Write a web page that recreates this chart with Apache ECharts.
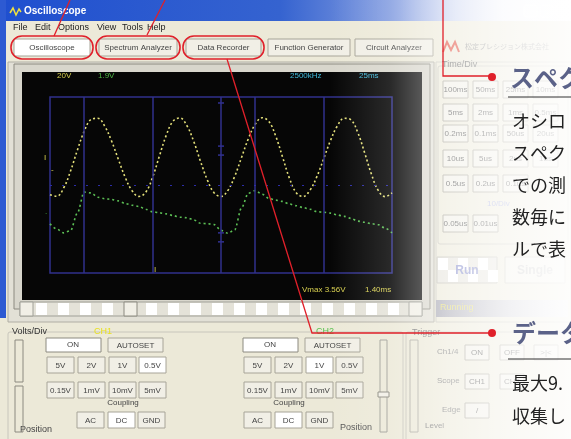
<!DOCTYPE html>
<html>
<head>
<meta charset="utf-8">
<title>Oscilloscope</title>
<script src="https://cdn.jsdelivr.net/npm/echarts@6.0.0/dist/echarts.min.js"></script>
<style>
html, body { margin: 0; padding: 0; background: #fff; }
#scope { width: 571px; height: 439px; }
</style>
</head>
<body>
<div id="scope"></div>
<script>
// time axis in screen divisions, 0..10
var sampleTimes = [0, 0.2, 0.4, 0.6, 0.8, 1.0, 1.2, 1.4, 1.6, 1.8, 2.0, 2.2, 2.4, 2.6, 2.8, 3.0, 3.2, 3.4, 3.6, 3.8,
    4.0, 4.2, 4.4, 4.6, 4.8, 5.0, 5.2, 5.4, 5.6, 5.8, 6.0, 6.2, 6.4, 6.6, 6.8, 7.0, 7.2, 7.4, 7.6, 7.8,
    8.0, 8.2, 8.4, 8.6, 8.8, 9.0, 9.2, 9.4, 9.6, 9.8, 10.0];
// CH1 (yellow) and CH2 (green), in divisions
var ch1Volts = [-0.55, -0.64, -0.17, 0.79, 1.98, 3.05, 3.72, 3.79, 3.34, 2.50, 1.45, 0.43, -0.33, -0.65, -0.41, 0.44, 1.65, 2.83, 3.63, 3.81,
    3.38, 2.49, 1.35, 0.29, -0.45, -0.65, -0.31, 0.49, 1.56, 2.63, 3.45, 3.82, 3.61, 2.78, 1.59, 0.39, -0.44, -0.65, -0.30, 0.46,
    1.48, 2.52, 3.35, 3.79, 3.70, 2.98, 1.83, 0.61, -0.32, -0.66, -0.45];
var ch2Volts = [-2.21, -2.50, -2.72, -2.60, -1.60, -0.40, -0.45, -0.70, -0.78, -0.82, -0.90, -1.05, -1.15, -1.22, -1.38, -1.52, -1.58, -1.64, -1.74, -1.83,
    -1.86, -1.98, -2.17, -2.20, -2.25, -2.58, -2.74, -2.55, -1.30, -0.47, -0.32, -0.52, -0.76, -0.86, -0.93, -1.08, -1.18, -1.28, -1.38, -1.51,
    -1.55, -1.60, -1.70, -1.78, -1.90, -2.05, -2.12, -2.20, -2.26, -2.45, -2.72];
var divLines = [1, 3, 5, 6, 8];
var centerTicks = [4.66, 2.21, 1.7, -2.72, -3.23];

var menuItems = ['File', 'Edit', 'Options', 'View', 'Tools', 'Help'];
var toolButtons = ['Oscilloscope', 'Spectrum Analyzer', 'Data Recorder', 'Function Generator', 'Circuit Analyzer'];
var timeDivRows = [['100ms', '50ms', '25ms', '10ms'], ['5ms', '2ms', '1ms', '0.5ms'], ['0.2ms', '0.1ms', '50us', '20us'],
    ['10us', '5us', '2us', '1us'], ['0.5us', '0.2us', '0.1us'], ['0.05us', '0.01us']];
var voltRows = [['5V', '2V', '1V', '0.5V'], ['0.15V', '1mV', '10mV', '5mV']];
var couplings = ['AC', 'DC', 'GND'];
var noteTitle1 = 'スペク';
var noteLines1 = ['オシロ', 'スペク', 'での測', '数毎に', 'ルで表'];
var noteTitle2 = 'データ';
var noteLines2 = ['最大9.', '収集し'];

var els = [];
var UI = 'Liberation Sans, DejaVu Sans, sans-serif';
var JP = 'Noto Sans CJK JP, sans-serif';

function box(x, y, w, h, fill, stroke, z, r, lw) {
    els.push({type: 'rect', z: z || 0, silent: true, shape: {x: x, y: y, width: w, height: h, r: r || 0},
        style: {fill: fill || 'none', stroke: stroke || null, lineWidth: lw || 1}});
}
function label(x, y, s, size, color, z, opt) {
    opt = opt || {};
    els.push({type: 'text', z: z || 0, silent: true, x: x, y: y,
        style: {text: s, fontSize: size, fontFamily: opt.family || UI, fontWeight: opt.weight || 'normal', fill: color,
            textAlign: opt.align || 'left', align: opt.align || 'left', textVerticalAlign: 'middle', verticalAlign: 'middle'}});
}
function line(points, color, width, z) {
    els.push({type: 'polyline', z: z || 0, silent: true, shape: {points: points},
        style: {stroke: color, lineWidth: width, fill: 'none'}});
}
function dot(x, y, r, color, z) {
    els.push({type: 'circle', z: z || 0, silent: true, shape: {cx: x, cy: y, r: r}, style: {fill: color}});
}
function button(x, y, w, h, s, pressed, z) {
    box(x, y, w, h, pressed ? '#ffffff' : '#f1efe6', '#a7a498', z || 0);
    label(x + w / 2, y + h / 2 + 0.5, s, 8, '#444', (z || 0) + 1, {align: 'center'});
}

// window body, title and menu
box(0, 0, 571, 439, '#ece9d8', null, -30);
box(0, 0, 571, 21, {type: 'linear', x: 0, y: 0, x2: 1, y2: 0, colorStops: [
    {offset: 0, color: '#1f4fcf'}, {offset: 0.49, color: '#3563d0'}, {offset: 0.7, color: '#8aa2e2'},
    {offset: 0.8, color: '#cfd8f2'}, {offset: 0.88, color: '#f2f4fb'}, {offset: 1, color: '#ffffff'}]}, null, -25);
box(0, 0, 6, 318, '#2d5ad2', null, -25);
line([[10, 13], [13, 8], [16, 15], [19, 9], [21, 12]], '#f0e040', 1.5, -20);
label(24, 11, 'Oscilloscope', 10, '#ffffff', -20, {weight: 'bold'});
[524, 540, 556].forEach(function (x) { box(x, 5, 13, 12, 'rgba(255,255,255,0.3)', '#ffffff', -20, 2); });
var menuX = [13, 35, 58, 97, 122, 147];
menuItems.forEach(function (m, i) { label(menuX[i], 28, m, 9, '#222', -20); });

// toolbar
var toolX = [14, 99, 186, 268, 355], toolW = [76, 78, 75, 82, 78];
toolButtons.forEach(function (t, i) { button(toolX[i], 39, toolW[i], 17, t, i === 0, -20); });
box(11, 36, 82, 23, 'none', '#e0202a', 50, 11, 1.6);
box(96, 36, 84, 23, 'none', '#e0202a', 50, 11, 1.6);
box(183, 36, 81, 23, 'none', '#e0202a', 50, 11, 1.6);

// scope screen
box(8, 62, 426, 260, '#e2e0d6', '#b0aea4', -22);
box(14, 64, 416, 245, '#d8d6cc', '#8c8a80', -21);
box(22, 72, 400, 228, '#060606', null, -15);
box(20, 302, 402, 14, '#e4e2d8', '#a0a098', -14);
for (var sx = 36; sx < 408; sx += 22) { box(sx, 303, 11, 12, '#ffffff', null, -13); }
box(20, 302, 13, 14, '#f1efe6', '#a0a098', -12);
box(409, 302, 13, 14, '#f1efe6', '#a0a098', -12);
box(124, 302, 13, 14, '#f1efe6', '#8c8a80', -12);
label(57, 76, '20V', 8, '#d8d050', 5);
label(98, 76, '1.9V', 8, '#50b848', 5);
label(290, 76, '2500kHz', 8, '#40b8d8', 5);
label(359, 76, '25ms', 8, '#40b8d8', 5);
label(302, 290, 'Vmax 3.56V', 8, '#d8d050', 5);
label(365, 290, '1.40ms', 8, '#d8d050', 5);
label(44, 158, 'I', 8, '#d8d050', 5);
label(51, 170, '-', 8, '#d8d050', 5);
label(45, 212, '.', 8, '#50b848', 5);
label(154, 270, 'I', 8, '#d8d050', 5);

// right panel: logo, Time/Div
box(436, 62, 135, 260, '#ece9d8', '#c8c6bc', -22);
line([[443, 52], [447, 42], [451, 50], [455, 42], [459, 52]], '#e04030', 2, -20);
label(465, 46, '松定プレシジョン株式会社', 7, '#888', -20, {family: JP});
box(438, 66, 130, 178, 'none', '#c8c6bc', -20, 2);
label(442, 65, 'Time/Div', 9, '#555', -19);
var tdX = [443, 473, 503, 533], tdY = [81, 104, 125, 150, 175, 215];
timeDivRows.forEach(function (row, r) {
    row.forEach(function (t, c) { button(tdX[c], tdY[r], 25, 17, t, false, -19); });
});
label(487, 204, '10/Div', 8, '#9aa2dc', -19);
box(437, 257, 60, 26, '#e6e4dc', '#c0beb4', -19);
for (var rx = 0; rx < 6; rx++) {
    for (var ry = 0; ry < 2; ry++) {
        if ((rx + ry) % 2 === 0) { box(438 + rx * 10, 258 + ry * 12, 10, 12, '#ffffff', null, -18); }
    }
}
label(467, 271, 'Run', 12, '#7c84c8', -17, {align: 'center', weight: 'bold'});
box(505, 257, 60, 26, '#f1efe6', '#c8c6bc', -19);
label(535, 271, 'Single', 12, '#bdbdbd', -17, {align: 'center', weight: 'bold'});
box(436, 300, 132, 17, {type: 'linear', x: 0, y: 0, x2: 1, y2: 0, colorStops: [
    {offset: 0, color: '#a4a4b0'}, {offset: 1, color: '#ececf0'}]}, null, -19);
label(440, 308, 'Running', 9, '#e6de70', -18);

// bottom: Volts/Div groups and trigger
box(8, 332, 395, 110, 'none', '#c8c6bc', -20, 2);
box(406, 332, 170, 110, 'none', '#c8c6bc', -20, 2);
label(12, 332, 'Volts/Div', 9, '#333', -19);
label(94, 332, 'CH1', 9, '#e8e020', -19);
label(316, 332, 'CH2', 9, '#58c050', -19);
label(412, 333, 'Trigger', 9, '#777', -19);
[0, 197].forEach(function (off, ch) {
    box(46 + off, 338, 55, 14, '#ffffff', '#8c8a80', -19);
    label(73 + off, 345, 'ON', 8, '#444', -18, {align: 'center'});
    button(108 + off, 338, 55, 14, 'AUTOSET', false, -19);
    var colX = [47 + off, 78 + off, 109 + off, 139 + off];
    voltRows.forEach(function (row, r) {
        row.forEach(function (v, c) {
            var pressed = (ch === 0 && r === 0 && c === 3) || (ch === 1 && r === 0 && c === 2);
            button(colX[c], 357 + r * 25, 27, 16, v, pressed, -19);
        });
    });
    var cx0 = ch === 0 ? 1 : 0;
    label(colX[cx0] + 45, 403, 'Coupling', 8, '#444', -19, {align: 'center'});
    couplings.forEach(function (cp, c) { button(colX[c + cx0] - cx0, 412, 27, 16, cp, c === 1, -19); });
});
label(20, 430, 'Position', 9, '#444', -19);
label(340, 428, 'Position', 9, '#555', -19);
box(15, 340, 8, 42, 'none', '#8c8a80', -19);
box(15, 386, 8, 46, 'none', '#8c8a80', -19);
box(380, 340, 7, 92, 'none', '#a0a098', -19);
box(378, 392, 11, 5, '#f1efe6', '#8c8a80', -18);
box(410, 340, 8, 92, 'none', '#b0aea4', -19);
label(437, 352, 'Ch1/4', 8, '#777', -19);
button(465, 345, 24, 15, 'ON', false, -19);
button(500, 345, 24, 15, 'OFF', false, -19);
button(534, 345, 24, 15, '>|<', false, -19);
label(437, 381, 'Scope', 8, '#777', -19);
button(465, 374, 24, 15, 'CH1', false, -19);
button(500, 374, 24, 15, 'CH2', false, -19);
label(442, 410, 'Edge', 8, '#777', -19);
button(465, 403, 24, 15, '/', false, -19);
label(425, 426, 'Level', 8, '#777', -19);

// fade to white on the right
box(330, 0, 241, 439, {type: 'linear', x: 0, y: 0, x2: 1, y2: 0, colorStops: [
    {offset: 0, color: 'rgba(255,255,255,0)'}, {offset: 0.25, color: 'rgba(255,255,255,0.14)'},
    {offset: 0.5, color: 'rgba(255,255,255,0.5)'}, {offset: 0.75, color: 'rgba(255,255,255,0.75)'},
    {offset: 1, color: 'rgba(255,255,255,0.9)'}]}, null, 60);

// callouts
line([[70, 0], [54, 36]], '#e0202a', 1.3, 70);
line([[165, 0], [147, 35]], '#e0202a', 1.3, 70);
line([[227, 59], [312, 333], [492, 333]], '#e0202a', 1.3, 70);
dot(492, 333, 4, '#e0202a', 71);
line([[443, 0], [443, 76], [492, 76]], '#e0202a', 1.3, 70);
dot(492, 77, 4, '#e0202a', 71);

label(510, 78, noteTitle1, 24, '#5b6288', 72, {family: JP, weight: 'bold'});
line([[508, 97], [571, 97]], '#333', 1, 72);
noteLines1.forEach(function (s, i) { label(512, 121 + i * 32, s, 18, '#222', 72, {family: JP}); });
label(512, 333, noteTitle2, 24, '#5b6288', 72, {family: JP, weight: 'bold'});
line([[508, 359], [571, 359]], '#333', 1, 72);
noteLines2.forEach(function (s, i) { label(512, 383 + i * 33, s, 18, '#222', 72, {family: JP}); });

var scopeScreen = {
    init: function () {
        var that = this
        that.drawTrace()
    },
    drawTrace: function () {
        var myChart = echarts.init(document.getElementById('scope'));
        var ch1 = sampleTimes.map(function (t, i) { return [t, ch1Volts[i]]; });
        var ch2 = sampleTimes.map(function (t, i) { return [t, ch2Volts[i]]; });
        var option = {
            animation: false,
            graphic: {elements: els},
            grid: {left: 50, top: 97, width: 342, height: 176, show: true, borderColor: '#30308c', borderWidth: 1.5, backgroundColor: 'transparent'},
            xAxis: {type: 'value', min: 0, max: 10, show: false},
            yAxis: {type: 'value', min: -5, max: 5, show: false},
            series: [
                {
                    name: 'divs',
                    type: 'line',
                    data: [],
                    markLine: {
                        silent: true,
                        symbol: 'none',
                        label: {show: false},
                        lineStyle: {color: '#30308c', type: 'solid', width: 1.5},
                        data: divLines.map(function (v) { return {xAxis: v}; }).concat([
                            {yAxis: 0, lineStyle: {color: '#2c2ca8', type: [2, 10], width: 1.2}}
                        ])
                    }
                },
                {
                    name: 'ticks',
                    type: 'scatter',
                    symbol: 'rect',
                    symbolSize: [6, 1.5],
                    itemStyle: {color: '#3c3cb8'},
                    data: centerTicks.map(function (v) { return [5, v]; })
                },
                {
                    name: 'CH1',
                    type: 'line',
                    smooth: 0.4,
                    showSymbol: false,
                    lineStyle: {color: '#e4e07a', width: 1.6, type: [2, 2.5]},
                    data: ch1
                },
                {
                    name: 'CH2',
                    type: 'line',
                    smooth: 0.3,
                    smoothMonotone: 'x',
                    showSymbol: false,
                    lineStyle: {color: '#5cbf55', width: 1.6, type: [2, 3]},
                    data: ch2
                }
            ]
        };
        myChart.setOption(option);
    }
}
scopeScreen.init()
</script>
</body>
</html>
